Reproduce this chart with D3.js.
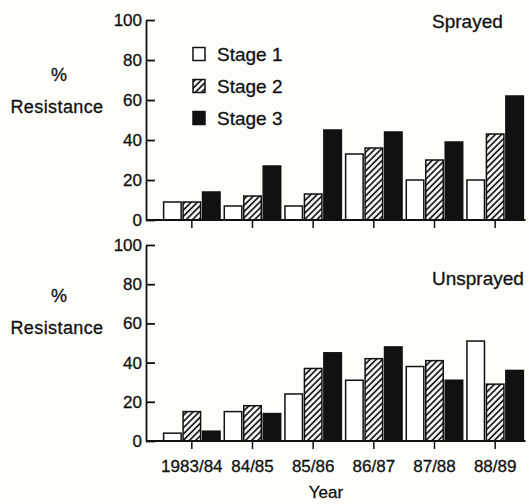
<!DOCTYPE html>
<html>
<head>
<meta charset="utf-8">
<script src="https://cdn.jsdelivr.net/npm/d3@7"></script>
<style>
  html, body { margin: 0; padding: 0; background: #fdfdfa; }
  svg { display: block; }
  text { font-family: "Liberation Sans", Arial, Helvetica, sans-serif; fill: #111; stroke: #111; stroke-width: 0.3px; }
</style>
</head>
<body>
<svg id="chart" width="529" height="504"></svg>
<script>
// ---- data ----
const years = ["1983/84", "84/85", "85/86", "86/87", "87/88", "88/89"];
const stages = ["Stage 1", "Stage 2", "Stage 3"];
const yTicks = [0, 20, 40, 60, 80, 100];
const sprayedStage1 = [9, 7, 7, 33, 20, 20];
const sprayedStage2 = [9, 12, 13, 36, 30, 43];
const sprayedStage3 = [14, 27, 45, 44, 39, 62];
const unsprayedStage1 = [4, 15, 24, 31, 38, 51];
const unsprayedStage2 = [15, 18, 37, 42, 41, 29];
const unsprayedStage3 = [5, 14, 45, 48, 31, 36];
const panelTitles = ["Sprayed", "Unsprayed"];

// ---- drawing ----
const svg = d3.select("#chart");
const ink = "#111";

const defs = svg.append("defs");
defs.append("pattern")
  .attr("id", "hatch")
  .attr("patternUnits", "userSpaceOnUse")
  .attr("width", 4.4).attr("height", 4.4)
  .attr("patternTransform", "rotate(45)")
  .call(p => {
    p.append("rect").attr("width", 4.4).attr("height", 4.4).attr("fill", "#fff");
    p.append("line").attr("x1", 1).attr("y1", 0).attr("x2", 1).attr("y2", 4.4)
      .attr("stroke", ink).attr("stroke-width", 1.7);
  });

const fills = ["#fff", "url(#hatch)", ink];

const axisX = 146;
const x = d3.scaleBand().domain(years).range([161.5, 525.5])
  .paddingInner(0.07).paddingOuter(0.035);
const xs = d3.scaleBand().domain(stages).range([0, x.bandwidth()]).paddingInner(0.1);

const panels = [
  { title: panelTitles[0], series: [sprayedStage1, sprayedStage2, sprayedStage3],
    y: d3.scaleLinear().domain([0, 100]).range([220, 20]), labels: false, titleY: 28 },
  { title: panelTitles[1], series: [unsprayedStage1, unsprayedStage2, unsprayedStage3],
    y: d3.scaleLinear().domain([0, 100]).range([441, 245]), labels: true, titleY: 285 }
];

panels.forEach((p, pi) => {
  const g = svg.append("g");
  const y = p.y;

  // bars
  stages.forEach((s, si) => {
    g.append("g").selectAll("rect")
      .data(years.map((yr, i) => ({ yr, v: p.series[si][i] })))
      .join("rect")
      .attr("x", d => x(d.yr) + xs(s))
      .attr("y", d => y(d.v))
      .attr("width", xs.bandwidth())
      .attr("height", d => y(0) - y(d.v))
      .attr("fill", fills[si])
      .attr("stroke", ink)
      .attr("stroke-width", 1.5);
  });

  // y axis
  const ya = g.append("g")
    .attr("transform", `translate(${axisX},0)`)
    .call(d3.axisLeft(y).tickValues(yTicks).tickSizeInner(-9).tickSizeOuter(0).tickPadding(4));
  ya.selectAll("path, line").attr("stroke", ink).attr("stroke-width", 1.8);
  ya.selectAll("text").attr("font-size", 17).attr("font-family", null).attr("fill", ink);

  // x axis (baseline + downward ticks at group centres)
  const xa = g.append("g")
    .attr("transform", `translate(0,${y(0)})`)
    .call(d3.axisBottom(x).tickSizeInner(8).tickSizeOuter(0).tickPadding(11));
  xa.select("path.domain").attr("d", `M${axisX},0H${x.range()[1]}`)
    .attr("stroke", ink).attr("stroke-width", 1.8);
  xa.selectAll("line").attr("stroke", ink).attr("stroke-width", 1.5);
  if (p.labels) {
    xa.selectAll("text").attr("font-size", 17).attr("font-family", null).attr("fill", ink);
  } else {
    xa.selectAll("text").remove();
  }

  // y label
  const off = y(0) - 220;
  g.append("text").attr("x", 59).attr("y", 81 + off).attr("text-anchor", "middle")
    .attr("font-size", 18).text("%");
  g.append("text").attr("x", 57).attr("y", 113 + off).attr("text-anchor", "middle")
    .attr("font-size", 18).attr("letter-spacing", 0.4).text("Resistance");

  // panel title
  g.append("text").attr("x", 432).attr("y", p.titleY)
    .attr("font-size", 19).text(p.title);
});

// legend
const leg = svg.append("g");
stages.forEach((s, i) => {
  const cy = 54 + i * 32;
  leg.append("rect").attr("x", 193).attr("y", cy - 6.5).attr("width", 12).attr("height", 13)
    .attr("fill", fills[i]).attr("stroke", ink).attr("stroke-width", 1.5);
  leg.append("text").attr("x", 217).attr("y", cy + 7).attr("font-size", 19).text(s);
});

// x title
svg.append("text").attr("x", 326).attr("y", 498).attr("text-anchor", "middle")
  .attr("font-size", 17).text("Year");
</script>
</body>
</html>
